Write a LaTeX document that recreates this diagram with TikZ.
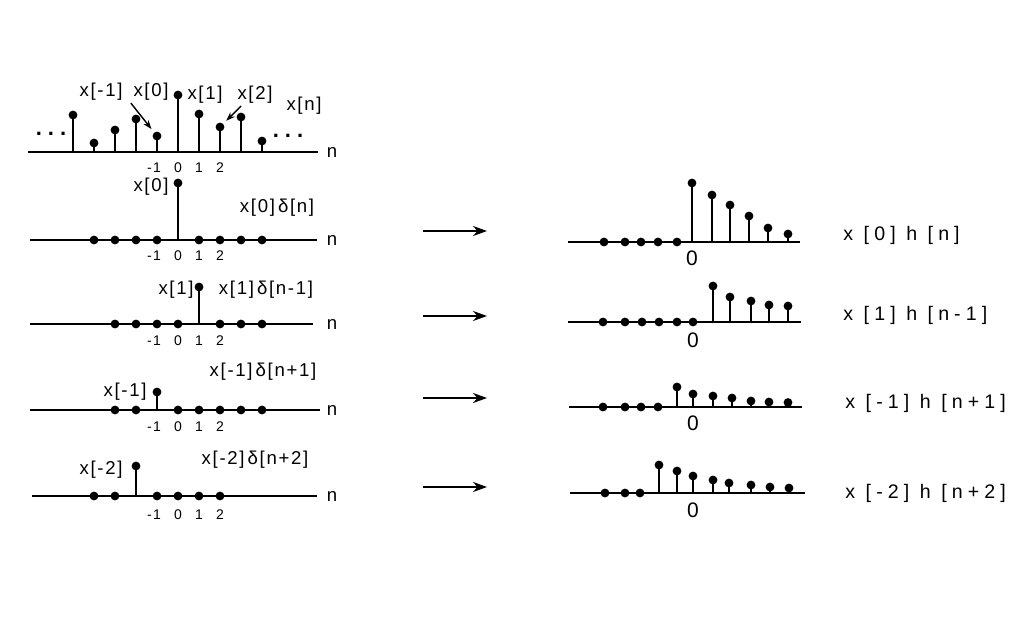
\documentclass[tikz,border=0pt]{standalone}
\usepackage{fontspec}
\newfontfamily\labfont[LetterSpace=9]{Liberation Sans}
\newfontfamily\hlabfont[LetterSpace=26]{Liberation Sans}
\usetikzlibrary{arrows.meta}
\tikzset{
  axis/.style={line width=0.85pt},
  stem/.style={line width=1.3pt},
  dot/.style={circle,fill,inner sep=0pt,minimum size=4.4pt},
  lab/.style={font=\labfont\fontsize{9.3}{10}\selectfont,inner sep=0pt},
  hlab/.style={font=\hlabfont\fontsize{9.8}{11}\selectfont,inner sep=0pt},
  ticklab/.style={font=\labfont\fontsize{7}{8}\selectfont,inner sep=0pt},
  zerolab/.style={font=\labfont\fontsize{10.5}{12}\selectfont,inner sep=0pt},
  ellip/.style={font=\labfont\bfseries\fontsize{11}{12}\selectfont,inner sep=0pt},
  pointer/.style={-{Stealth[length=4.5pt,width=3.2pt]},line width=0.7pt},
  shiftarrow/.style={-{Stealth[length=7pt,width=5pt]},line width=1pt},
}
\begin{document}
\begin{tikzpicture}[x=0.5pt,y=-0.5pt]
  \useasboundingbox (0,0) rectangle (1028,637);
  %x[n] itself
  \coordinate (a1s) at (28,152);
  \coordinate (a1e) at (318,152);
  \draw[axis] (a1s) -- (a1e);
  \node[lab] (n1) at (332,152) {n};
  \foreach \x/\h [count=\i] in {73/37,94/9,115/22,136/33,157/16,178/57,199/38,220/25,241/35,262/11}{
    \coordinate (xb\i) at (\x,152);
    \node[dot] (xd\i) at (\x,152-\h) {};
    \draw[stem] (xb\i) -- (xd\i.center);
  }
  \node[ellip] (ldots) at (51,134) {.\hspace{3pt}.\hspace{3pt}.};
  \node[ellip] (rdots) at (288,136) {.\hspace{3pt}.\hspace{3pt}.};
  \node[lab] (lxm1) at (101,92) {x[-1]};
  \node[lab] (lx0) at (151,92) {x[0]};
  \node[lab] (lx1) at (205,95) {x[1]};
  \node[lab] (lx2) at (255,95) {x[2]};
  \node[lab] (lxn) at (304,106) {x[n]};
  \coordinate (pm1) at ([xshift=4pt,yshift=-1pt]lxm1.south east);
  \coordinate (p2) at ([xshift=2pt,yshift=-1pt]lx2.south west);
  \draw[pointer,shorten >=2pt] (pm1) -- (xd5);
  \draw[pointer,shorten >=2pt] (p2) -- (xd8);
  \foreach \x/\t [count=\i] in {154/-1,178/0,199/1,220/2}
    \node[ticklab] (t1\i) at (\x,168) {\t};
  %x[0] delta[n]
  \coordinate (a2s) at (30,240);
  \coordinate (a2e) at (317,240);
  \draw[axis] (a2s) -- (a2e);
  \node[lab] (n2) at (332,240) {n};
  \foreach \x [count=\i] in {94,115,136,157,199,220,241,262}
    \node[dot] (zd2\i) at (\x,240) {};
  \coordinate (sb2) at (178,240);
  \node[dot] (sd2) at (178,183) {};
  \draw[stem] (sb2) -- (sd2.center);
  \node[lab] (lb2) at (151,187) {x[0]};
  \node[lab] (lr2) at (277,208) {x[0]$\,$δ[n]};
  \foreach \x/\t [count=\i] in {154/-1,178/0,199/1,220/2}
    \node[ticklab] (t2\i) at (\x,256) {\t};
  %x[1] delta[n-1]
  \coordinate (a3s) at (30,324);
  \coordinate (a3e) at (313,324);
  \draw[axis] (a3s) -- (a3e);
  \node[lab] (n3) at (332,324) {n};
  \foreach \x [count=\i] in {115,136,157,178,220,241,262}
    \node[dot] (zd3\i) at (\x,324) {};
  \coordinate (sb3) at (199,324);
  \node[dot] (sd3) at (199,287) {};
  \draw[stem] (sb3) -- (sd3.center);
  \node[lab] (lb3) at (176,290) {x[1]};
  \node[lab] (lr3) at (266,290) {x[1]$\,$δ[n-1]};
  \foreach \x/\t [count=\i] in {154/-1,178/0,199/1,220/2}
    \node[ticklab] (t3\i) at (\x,341) {\t};
  %x[-1] delta[n+1]
  \coordinate (a4s) at (30,410);
  \coordinate (a4e) at (320,410);
  \draw[axis] (a4s) -- (a4e);
  \node[lab] (n4) at (332,410) {n};
  \foreach \x [count=\i] in {115,136,178,199,220,241,262}
    \node[dot] (zd4\i) at (\x,410) {};
  \coordinate (sb4) at (157,410);
  \node[dot] (sd4) at (157,392) {};
  \draw[stem] (sb4) -- (sd4.center);
  \node[lab] (lb4) at (125,392) {x[-1]};
  \node[lab] (lr4) at (263,372) {x[-1]$\,$δ[n+1]};
  \foreach \x/\t [count=\i] in {154/-1,178/0,199/1,220/2}
    \node[ticklab] (t4\i) at (\x,427) {\t};
  %x[-2] delta[n+2]
  \coordinate (a5s) at (32,496);
  \coordinate (a5e) at (317,496);
  \draw[axis] (a5s) -- (a5e);
  \node[lab] (n5) at (332,496) {n};
  \foreach \x [count=\i] in {94,115,157,178,199,220}
    \node[dot] (zd5\i) at (\x,496) {};
  \coordinate (sb5) at (136,496);
  \node[dot] (sd5) at (136,466) {};
  \draw[stem] (sb5) -- (sd5.center);
  \node[lab] (lb5) at (101,470) {x[-2]};
  \node[lab] (lr5) at (255,460) {x[-2]$\,$δ[n+2]};
  \foreach \x/\t [count=\i] in {154/-1,178/0,199/1,220/2}
    \node[ticklab] (t5\i) at (\x,515) {\t};
  %arrows in the middle
  \foreach \y [count=\i] in {231,316,398,487}{
    \coordinate (ms\i) at (423,\y);
    \coordinate (me\i) at (487,\y);
    \draw[shiftarrow] (ms\i) -- (me\i);
  }
  %responses
  \coordinate (b1s) at (568,242);
  \coordinate (b1e) at (800,242);
  \draw[axis] (b1s) -- (b1e);
  \foreach \x [count=\i] in {604,625,641,658,677}
    \node[dot] (hz1\i) at (\x,242) {};
  \foreach \x/\h [count=\i] in {692/59,712/47,730/37,749/26,768/14,788/8}{
    \coordinate (hb1\i) at (\x,242);
    \node[dot] (hd1\i) at (\x,242-\h) {};
    \draw[stem] (hb1\i) -- (hd1\i.center);
  }
  \node[zerolab] (o1) at (692,258) {0};
  \node[hlab,anchor=west] (h1) at (843,235) {x [0] h [n]};
  %
  \coordinate (b2s) at (568,322);
  \coordinate (b2e) at (801,322);
  \draw[axis] (b2s) -- (b2e);
  \foreach \x [count=\i] in {603,625,642,659,677,693}
    \node[dot] (hz2\i) at (\x,322) {};
  \foreach \x/\h [count=\i] in {713/36,730/25,751/21,769/17,788/16}{
    \coordinate (hb2\i) at (\x,322);
    \node[dot] (hd2\i) at (\x,322-\h) {};
    \draw[stem] (hb2\i) -- (hd2\i.center);
  }
  \node[zerolab] (o2) at (693,340) {0};
  \node[hlab,anchor=west] (h2) at (843,315) {x [1] h [n-1]};
  %
  \coordinate (b3s) at (569,407);
  \coordinate (b3e) at (802,407);
  \draw[axis] (b3s) -- (b3e);
  \foreach \x [count=\i] in {603,625,641,658}
    \node[dot] (hz3\i) at (\x,407) {};
  \foreach \x/\h [count=\i] in {677/20,693/13,713/11,732/9,751/6,769/5,788/4.5}{
    \coordinate (hb3\i) at (\x,407);
    \node[dot] (hd3\i) at (\x,407-\h) {};
    \draw[stem] (hb3\i) -- (hd3\i.center);
  }
  \node[zerolab] (o3) at (693,423) {0};
  \node[hlab,anchor=west] (h3) at (845,403) {x [-1] h [n+1]};
  %
  \coordinate (b4s) at (570,493);
  \coordinate (b4e) at (805,493);
  \draw[axis] (b4s) -- (b4e);
  \foreach \x [count=\i] in {605,625,640}
    \node[dot] (hz4\i) at (\x,493) {};
  \foreach \x/\h [count=\i] in {659/28,677/22,693/17,713/13,729/10,751/8,770/6,789/5}{
    \coordinate (hb4\i) at (\x,493);
    \node[dot] (hd4\i) at (\x,493-\h) {};
    \draw[stem] (hb4\i) -- (hd4\i.center);
  }
  \node[zerolab] (o4) at (693,510) {0};
  \node[hlab,anchor=west] (h4) at (845,493) {x [-2] h [n+2]};
\end{tikzpicture}
\end{document}
